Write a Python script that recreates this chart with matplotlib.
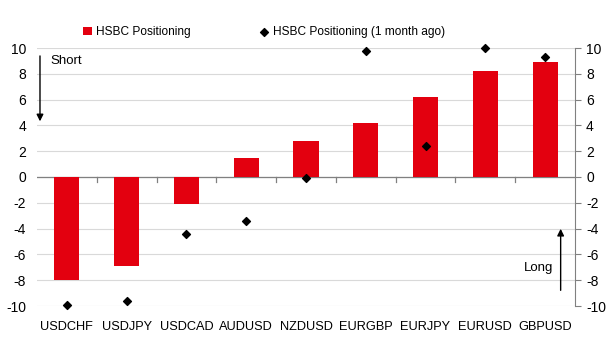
import matplotlib
matplotlib.use("Agg")
import matplotlib.pyplot as plt
import numpy as np

plt.rcParams['font.family'] = ['Liberation Sans', 'DejaVu Sans']

categories = ["USDCHF", "USDJPY", "USDCAD", "AUDUSD", "NZDUSD", "EURGBP", "EURJPY", "EURUSD", "GBPUSD"]
current = [-8.0, -6.9, -2.1, 1.5, 2.8, 4.2, 6.2, 8.2, 8.9]
month_ago = [-9.95, -9.6, -4.4, -3.4, -0.1, 9.8, 2.4, 10.0, 9.3]
yticks = [-10, -8, -6, -4, -2, 0, 2, 4, 6, 8, 10]

fig = plt.figure(figsize=(6.09, 3.45), dpi=100)
ax = fig.add_axes([37/609, 1 - 306/345, (575-37)/609, (306-48)/345])

x = np.arange(len(categories))
bars = ax.bar(x, current, width=0.42, color="#e3000f", zorder=3, label="HSBC Positioning")
pts = ax.scatter(x, month_ago, marker="D", s=16, color="black", zorder=4, clip_on=False,
                 label="HSBC Positioning (1 month ago)")

ax.set_xlim(-0.5, len(categories) - 0.5)
ax.set_ylim(-10, 10)
ax.set_yticks(yticks)
ax.set_yticklabels([str(v) for v in yticks], fontsize=10)
ax.yaxis.grid(True, color="#d9d9d9", linewidth=0.8, zorder=0)
ax.tick_params(axis="y", which="both", left=False, right=True, labelleft=True, labelright=True,
               direction="out", length=4, color="#808080", pad=4)

ax.set_xticks(x)
ax.set_xticklabels(categories, fontsize=9.2)
ax.tick_params(axis="x", length=0, pad=11)

for s in ["top", "left", "bottom"]:
    ax.spines[s].set_visible(False)
ax.spines["right"].set_color("#808080")

# zero line with category-boundary ticks
ax.axhline(0, color="#808080", linewidth=0.9, zorder=2)
for b in np.arange(0.5, len(categories) - 0.5, 1.0):
    ax.plot([b, b], [0, -0.35], color="#808080", linewidth=0.9, zorder=2)

# annotations
ax.annotate("", xy=(-0.45, 4.1), xytext=(-0.45, 9.6),
            arrowprops=dict(arrowstyle="-|>", color="black", lw=1.0, mutation_scale=10))
ax.text(-0.27, 9.0, "Short", fontsize=9.5, ha="left", va="center")
ax.annotate("", xy=(8.26, -3.8), xytext=(8.26, -9.0),
            arrowprops=dict(arrowstyle="-|>", color="black", lw=1.0, mutation_scale=10))
ax.text(8.13, -7.05, "Long", fontsize=9.5, ha="right", va="center")

fig.legend([bars, pts], ["HSBC Positioning", "HSBC Positioning (1 month ago)"],
           loc="center", bbox_to_anchor=(0.433, 1 - 32/345), ncol=2, frameon=False,
           fontsize=8.6, handlelength=0.8, handletextpad=0.3, columnspacing=5.8)

fig.savefig("out.png", dpi=100)
